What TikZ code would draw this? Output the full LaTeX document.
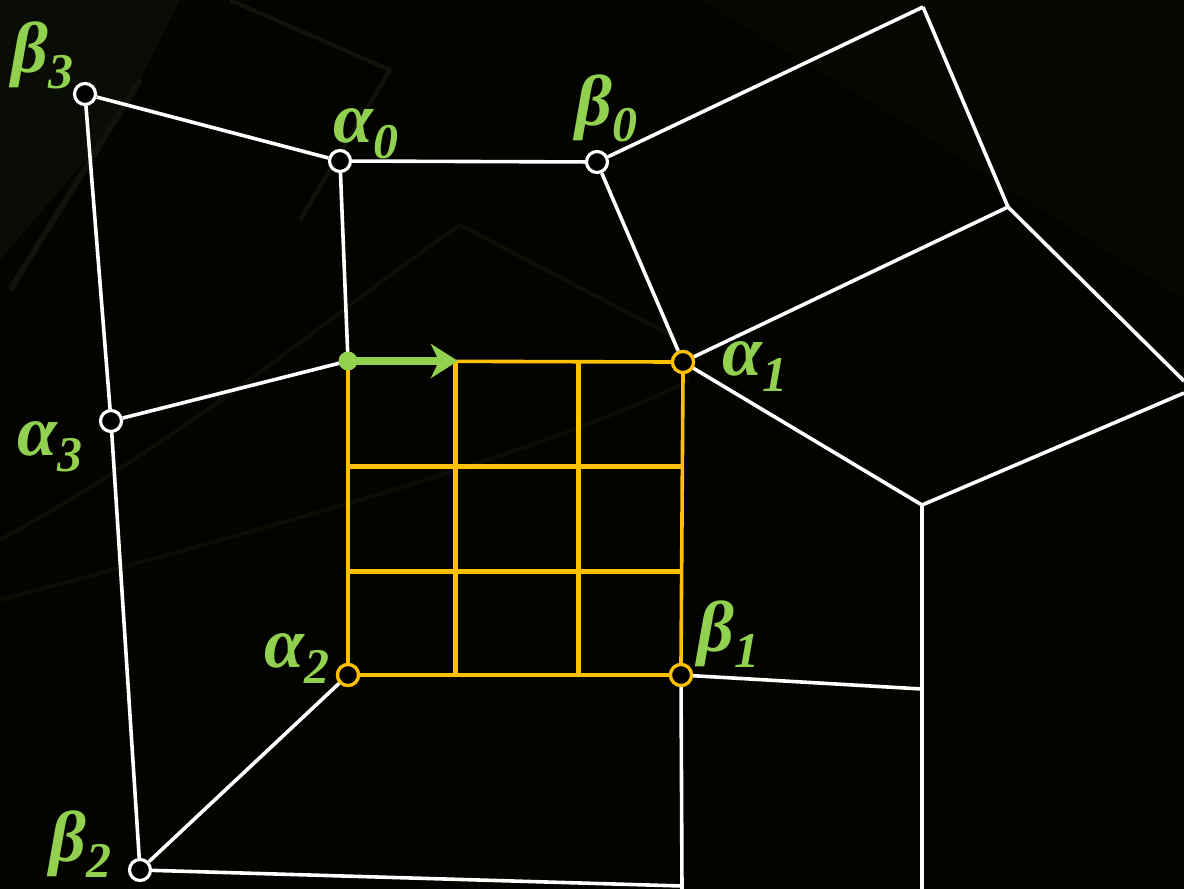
\documentclass[tikz,border=0pt]{standalone}
\usepackage{fontspec}
\setmainfont{Liberation Serif}
\usetikzlibrary{arrows.meta}
\definecolor{lgreen}{HTML}{92D050}
\definecolor{gold}{HTML}{FFC000}
\definecolor{bgdark}{HTML}{030300}
\definecolor{tex1}{HTML}{0A0C06}
\definecolor{tex2}{HTML}{10130B}
\newcommand{\glab}[2]{\fontsize{72}{72}\selectfont\textbf{\textit{#1}}\raisebox{-16pt}{\fontsize{50}{50}\selectfont\textbf{\textit{#2}}}}
\tikzset{
  wline/.style={draw=white, line width=3.6pt},
  gline/.style={draw=gold, line width=3.6pt},
  gthick/.style={draw=gold, line width=5pt},
  wpt/.style={circle, draw=white, fill=black, line width=3.2pt, minimum size=21pt, inner sep=0pt},
  ypt/.style={circle, draw=gold, fill=black, line width=3.2pt, minimum size=21pt, inner sep=0pt},
  gdot/.style={circle, fill=lgreen, minimum size=19pt, inner sep=0pt},
  lbl/.style={text=lgreen, anchor=base west, inner sep=0pt},
}
\begin{document}
\begin{tikzpicture}[x=1pt,y=-1pt]
\fill[bgdark] (0,0) rectangle (1184,889);
\useasboundingbox (0,0) rectangle (1184,889);
% faint background texture
\fill[tex1] (0,0) -- (180,0) -- (120,120) -- (0,260) -- cycle;
\draw[tex2, line width=6pt] (10,290) -- (140,80);
\draw[tex2, line width=4pt] (230,0) -- (390,70) -- (300,220);
\draw[tex2, line width=4pt, opacity=0.7] (0,540) .. controls (200,430) and (350,300) .. (460,225) -- (680,340);
\draw[tex2, line width=4pt, opacity=0.6] (0,600) .. controls (300,520) and (550,450) .. (690,380);
\fill[tex1, opacity=0.5] (700,0) -- (1184,0) -- (1184,300) -- (900,120) -- cycle;

% points
\node[wpt] (b3) at (85,94) {};
\node[wpt] (a0) at (340,161) {};
\node[wpt] (b0) at (597,162) {};
\node[wpt] (a3) at (111,421) {};
\node[wpt] (b2) at (140,870) {};
\coordinate (p1) at (923,7);
\coordinate (p2) at (1008,207);
\coordinate (p3) at (1184,381);
\coordinate (p4) at (922,505);
\coordinate (p5) at (1184,393);
\coordinate (p6) at (922,889);
\coordinate (p7) at (922,689);
\coordinate (p8) at (682,889);
\coordinate (p9) at (682,886);

% grid corners
\coordinate (g00) at (348,361);
\node[ypt] (a1) at (683,362) {};
\node[ypt] (a2) at (348,675) {};
\node[ypt] (b1) at (681,675) {};

% white mesh
\draw[wline] (b3) -- (a0);
\draw[wline] (b3) -- (a3);
\draw[wline] (a3) -- (b2);
\draw[wline] (a0) -- (b0);
\draw[wline] (a0) -- (g00);
\draw[wline] (a3) -- (g00);
\draw[wline] (b0) -- (a1);
\draw[wline] (b0) -- (p1);
\draw[wline] (p1) -- (p2);
\draw[wline] (a1) -- (p2);
\draw[wline] (p2) -- (p3);
\draw[wline] (a1) -- (p4);
\draw[wline] (p4) -- (p5);
\draw[wline] (p4) -- (p6);
\draw[wline] (b1) -- (p7);
\draw[wline] (b1) -- (p8);
\draw[wline] (a2) -- (b2);
\draw[wline] (b2) -- (p9);

% yellow grid
\draw[gthick] (455,361) -- (455,675);
\draw[gthick] (578,361) -- (578,675);
\draw[gthick] (348,466) -- (683,466);
\draw[gthick] (348,571) -- (683,571);
\draw[gline] (g00) -- (a1.west);
\draw[gline] (g00) -- (a2.north);
\draw[gline] (a2.east) -- (b1.west);
\draw[gline] (a1.south) -- (b1.north);
\node[ypt] at (a1) {};
\node[ypt] at (a2) {};
\node[ypt] at (b1) {};

% green arrow
\node[gdot] (start) at (g00) {};
\coordinate (arrend) at (458,361);
\draw[lgreen, line width=7.5pt, -{Stealth[length=27pt, width=34pt, inset=8pt]}] (start.center) -- (arrend);

% labels
\node[lbl] (lb3) at (11,72) {\glab{β}{3}};
\node[lbl] (la0) at (333,142) {\glab{α}{0}};
\node[lbl] (lb0) at (575,125) {\glab{β}{0}};
\node[lbl] (la1) at (722,375) {\glab{α}{1}};
\node[lbl] (la3) at (17,455) {\glab{α}{3}};
\node[lbl] (la2) at (264,667) {\glab{α}{2}};
\node[lbl] (lb1) at (697,651) {\glab{β}{1}};
\node[lbl] (lb2) at (49,861) {\glab{β}{2}};
\end{tikzpicture}
\end{document}
